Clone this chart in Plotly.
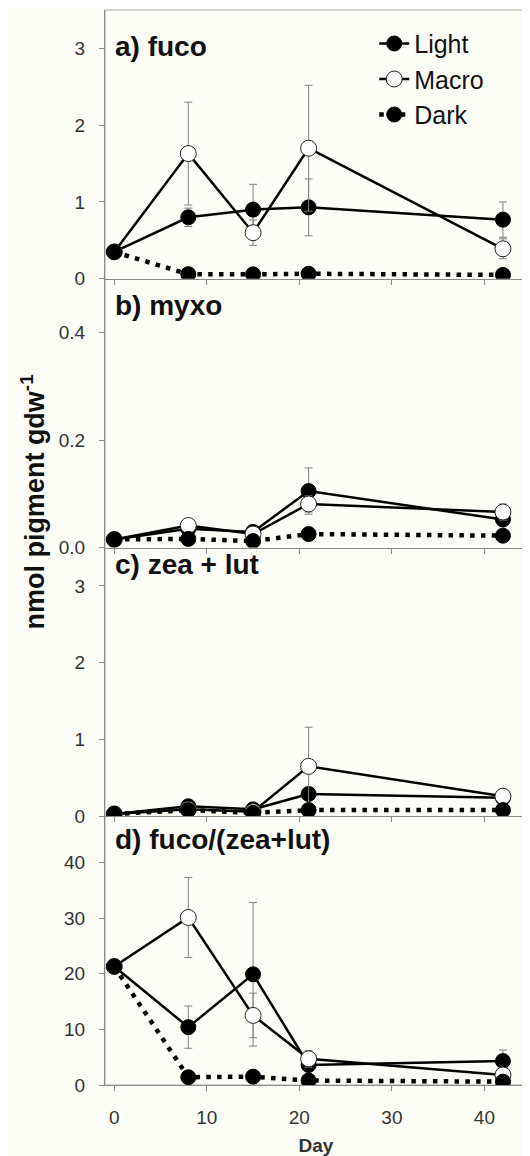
import plotly.graph_objects as go
from plotly.subplots import make_subplots

days = [0, 8, 15, 21, 42]

# a) fuco
fuco_light = [0.35, 0.80, 0.90, 0.93, 0.77]
fuco_light_err = [0.0, 0.12, 0.33, 0.37, 0.23]
fuco_macro = [0.35, 1.63, 0.60, 1.70, 0.39]
fuco_macro_err = [0.0, 0.67, 0.165, 0.82, 0.13]
fuco_dark = [0.35, 0.06, 0.057, 0.065, 0.05]
fuco_dark_err = [0, 0, 0, 0, 0]

# b) myxo
myxo_light = [0.015, 0.035, 0.029, 0.105, 0.052]
myxo_light_err = [0.0, 0.007, 0.006, 0.043, 0.01]
myxo_macro = [0.015, 0.041, 0.025, 0.081, 0.066]
myxo_macro_err = [0.0, 0.006, 0.006, 0.015, 0.015]
myxo_dark = [0.015, 0.016, 0.012, 0.025, 0.022]
myxo_dark_err = [0, 0, 0, 0, 0]

# c) zea + lut
zea_light = [0.03, 0.13, 0.09, 0.29, 0.24]
zea_light_err = [0.0, 0.03, 0.02, 0.06, 0.03]
zea_macro = [0.03, 0.09, 0.06, 0.65, 0.26]
zea_macro_err = [0.0, 0.02, 0.02, 0.51, 0.03]
zea_dark = [0.03, 0.08, 0.045, 0.08, 0.08]
zea_dark_err = [0, 0, 0, 0, 0]

# d) fuco/(zea+lut)
ratio_light = [21.3, 10.4, 19.9, 3.6, 4.3]
ratio_light_err = [0.0, 3.8, 12.9, 1.0, 2.0]
ratio_macro = [21.3, 30.1, 12.5, 4.7, 1.8]
ratio_macro_err = [0.0, 7.2, 4.0, 1.5, 0.5]
ratio_dark = [21.3, 1.4, 1.5, 0.8, 0.6]
ratio_dark_err = [0, 0, 0, 0, 0]

panel_labels = ["a) fuco", "b) myxo", "c) zea + lut", "d) fuco/(zea+lut)"]
series_names = ["Light", "Macro", "Dark"]
y_ranges = [[0, 3.5], [0, 0.5], [0, 3.5], [0, 48.3]]
y_ticks = [[0, 1, 2, 3], [0.0, 0.2, 0.4], [0, 1, 2, 3], [0, 10, 20, 30, 40]]
x_ticks = [0, 10, 20, 30, 40]
y_title = "nmol pigment gdw<sup>-1</sup>"
x_title = "Day"

panels = [
    (fuco_light, fuco_light_err, fuco_macro, fuco_macro_err, fuco_dark, fuco_dark_err),
    (myxo_light, myxo_light_err, myxo_macro, myxo_macro_err, myxo_dark, myxo_dark_err),
    (zea_light, zea_light_err, zea_macro, zea_macro_err, zea_dark, zea_dark_err),
    (ratio_light, ratio_light_err, ratio_macro, ratio_macro_err, ratio_dark, ratio_dark_err),
]

BG = "#fdfdf8"
AX = "#8a8a8a"
ERR = "#808080"
FONT = "Liberation Sans, Arial, sans-serif"

fig = make_subplots(rows=4, cols=1, shared_xaxes=True, vertical_spacing=0)

for i, (lv, le, mv, me, dv, de) in enumerate(panels):
    row = i + 1
    show = i == 0
    fig.add_trace(go.Scatter(
        x=days, y=lv, name=series_names[0], mode="lines+markers",
        line=dict(color="black", width=2.5),
        marker=dict(color="black", size=15, line=dict(color="black", width=1)),
        error_y=dict(type="data", array=le, color=ERR, thickness=1, width=4),
        showlegend=show, legendgroup="l",
    ), row=row, col=1)
    fig.add_trace(go.Scatter(
        x=days, y=mv, name=series_names[1], mode="lines+markers",
        line=dict(color="black", width=2.5),
        marker=dict(color="white", size=16, line=dict(color="#222", width=1)),
        error_y=dict(type="data", array=me, color=ERR, thickness=1, width=4),
        showlegend=show, legendgroup="m",
    ), row=row, col=1)
    fig.add_trace(go.Scatter(
        x=days, y=dv, name=series_names[2], mode="lines+markers",
        line=dict(color="black", width=4.5, dash="4.5px,6.3px"),
        marker=dict(color="black", size=15, line=dict(color="black", width=1)),
        error_y=dict(type="data", array=de, color=ERR, thickness=1, width=4),
        showlegend=show, legendgroup="d",
    ), row=row, col=1)

    fig.update_yaxes(
        row=row, col=1, range=y_ranges[i], tickvals=y_ticks[i],
        tickformat=".1f" if i == 1 else "d",
        showline=True, linecolor=AX, linewidth=1, mirror=False,
        ticks="outside", ticklen=5, tickcolor=AX, showgrid=False, zeroline=False,
        tickfont=dict(family=FONT, size=19, color="#333"), ticklabelstandoff=10,
        automargin=False,
    )
    fig.update_xaxes(
        row=row, col=1, range=[-1, 44.6], tickvals=x_ticks,
        showline=True, linecolor=AX, linewidth=1,
        ticks="outside", ticklen=5, tickcolor=AX, showgrid=False, zeroline=False,
        showticklabels=(i == 3),
        tickfont=dict(family=FONT, size=19, color="#333"), ticklabelstandoff=10,
        automargin=False,
    )

fig.update_xaxes(row=4, col=1, title=dict(text="<b>" + x_title + "</b>", standoff=13,
                                          font=dict(family=FONT, size=19, color="#333")))

label_y = [0.863, 0.90, 0.935, 0.915]
for i, lab in enumerate(panel_labels):
    yref = "y domain" if i == 0 else f"y{i+1} domain"
    fig.add_annotation(text="<b>" + lab + "</b>", xref="paper", yref=yref,
                       x=0.019, y=label_y[i], xanchor="left", yanchor="middle",
                       showarrow=False, font=dict(family=FONT, size=28, color="#111"))

fig.add_annotation(text="<b>" + y_title + "</b>", xref="paper", yref="paper",
                   x=-0.17, y=0.542, xanchor="center", yanchor="middle", textangle=-90,
                   showarrow=False, font=dict(family=FONT, size=27, color="#111"))

# outer frame (top / right borders)
fig.add_shape(type="rect", xref="paper", yref="paper", x0=0, x1=1, y0=0, y1=1,
              line=dict(color="#aaaaaa", width=1), layer="below")

# page body has an 8px margin: size and margins compensate for it
fig.update_layout(
    width=522, height=1148,
    margin=dict(l=97, r=3, t=2, b=71),
    paper_bgcolor=BG, plot_bgcolor=BG,
    font=dict(family=FONT, color="#111"),
    legend=dict(x=0.638, y=0.99, xanchor="left", yanchor="top",
                bgcolor="rgba(0,0,0,0)", font=dict(family=FONT, size=25, color="#111"),
                tracegroupgap=0),
)

fig.write_html("out.html")
